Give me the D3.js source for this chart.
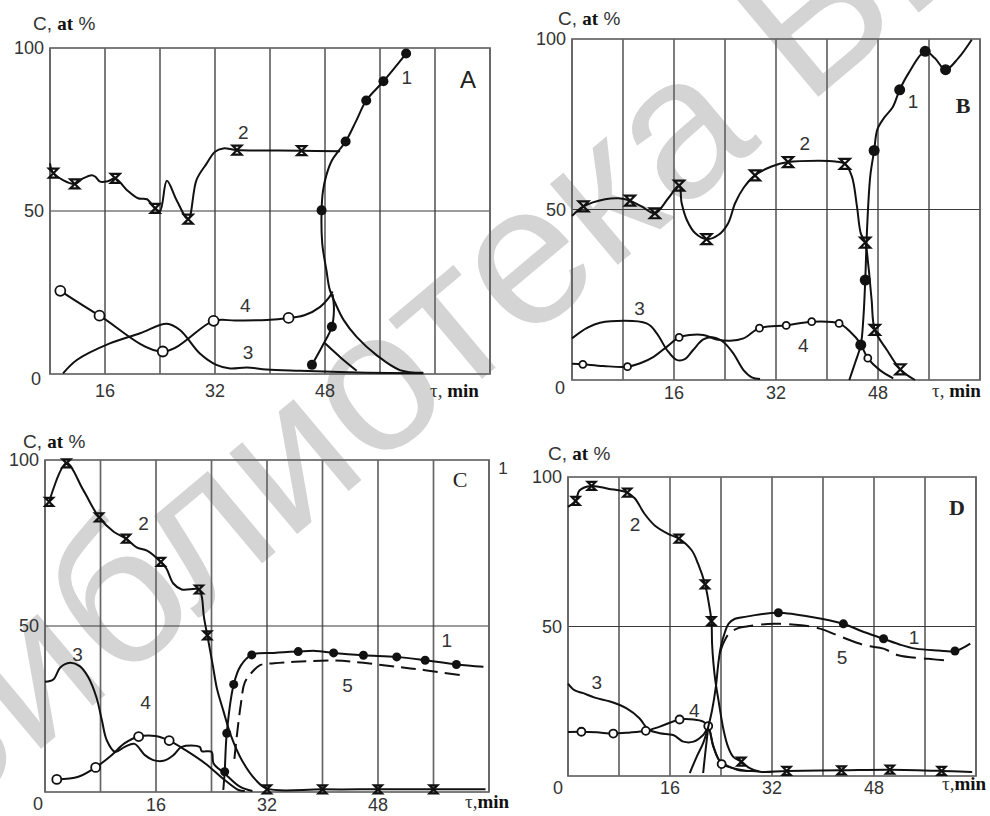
<!DOCTYPE html>
<html>
<head>
<meta charset="utf-8">
<script src="https://cdn.jsdelivr.net/npm/d3@7"></script>
<style>
  body { margin: 0; background: #fff; }
  svg { display: block; }
  .sans { font-family: "Liberation Sans", Arial, sans-serif; }
  .serif { font-family: "Liberation Serif", "Times New Roman", serif; }
</style>
</head>
<body>
<svg id="chart" width="990" height="816"></svg>
<script>
// --- data: [time (min), concentration (at %)] ---

// panel A
const a1Main = [[62.3,0.4],[58.9,1.2],[55.5,5.8],[52.6,11.4],[50.7,16.6],[49.5,21.7],[48.7,25.8],[48.2,31.9],[47.6,40],[47.5,50],[47.7,56],[48.2,61],[49,65.5],[50,68.5],[51,71.3],[52.5,77.5],[54,83.9],[56.5,89.8],[59.8,98.3]];
const a1Lower = [[46.1,2.8],[47.6,8.5],[49,14.5],[49.3,20],[49.1,24.5]];
const a1Branch = [[48,9.4],[50.3,5],[52.6,1]];
const a1Marks = [[59.8,98.3],[56.5,89.8],[54,83.9],[51,71.3],[47.5,50.2],[49,14.5],[46.1,2.8]];
const a2Line = [[8,64.6],[8.5,61.6],[11.6,58.3],[12.8,60],[14.1,61],[14.6,60.5],[15.3,59],[16.5,59.2],[17.5,60],[19.2,56.4],[20.8,53.9],[22.1,53.6],[23.3,50.8],[24,50],[25,59.3],[26.4,53.4],[28.1,47.5],[29.3,59.5],[30.8,64.6],[32,68.2],[33.2,69.2],[35.2,68.7],[44.6,68.5],[50.2,68.3]];
const a2Marks = [[8.5,61.6],[11.6,58.3],[17.5,60],[23.3,50.8],[28.1,47.5],[35.2,68.7],[44.6,68.5]];
const a3Line = [[9.9,0.2],[11.9,4.3],[16.7,9.4],[21.1,12.5],[25,15.4],[26.9,13.5],[29.8,6.3],[32.2,2.8],[34.2,1.7],[36.6,2],[39.5,1.4],[44.4,1],[54.1,0.4],[62.3,0.2]];
const a4Line = [[9.5,25.5],[15.2,17.9],[24.4,6.9],[31.8,16.3],[35,16.4],[39.5,16.6],[42.7,17.2],[45,18],[47.3,20.6],[48.6,23.5],[49.1,25.3]];
const a4Marks = [[9.5,25.5],[15.2,17.9],[24.4,6.9],[31.8,16.3],[42.7,17.2]];
const aLabels = [["1",59.9,91.2],["2",36.1,74.3],["3",36.8,6.8],["4",36.4,21.2]];

// panel B
const b1Line = [[43.5,0],[44.4,5],[45.3,10.3],[45.7,18],[46,29.3],[46.3,45],[46.8,60],[47.4,67.3],[47.9,73.5],[49,77],[50.3,80],[51.4,85.1],[52.8,90],[55.4,96.4],[56.9,94.4],[58.6,91],[60.6,94.4],[62.7,99.8]];
const b1Marks = [[45.3,10.3],[46,29.3],[47.4,67.3],[51.4,85.1],[55.4,96.4],[58.6,91]];
const b2Line = [[0,48.1],[1.8,50.9],[5.2,53],[7.3,53.3],[9.1,52.6],[10.9,50.9],[13,48.9],[15.1,53.3],[16.8,57],[17.2,51.9],[18,47],[19.3,43.1],[21.1,41.3],[23,42.6],[24.5,46],[25.6,51.9],[26.9,56.3],[28.7,60],[31.3,62.6],[33.9,63.9],[38.6,64.3],[41.3,64.1],[42.8,63.4],[43.9,59.7],[44.7,50.9],[45.3,43],[46,40.3],[46.5,33.3],[47,23.5],[47.5,14.7],[49.4,8.8],[51.5,3.1],[53.8,0]];
const b2Marks = [[1.8,50.9],[9.1,52.6],[13,48.9],[16.8,57],[21.1,41.3],[28.7,60],[33.9,63.9],[42.8,63.4],[46,40.3],[47.5,14.7],[51.5,3.1]];
const b3Line = [[0,12.2],[2.3,15.2],[4.4,16.8],[11.7,16.6],[13.3,13.7],[14.9,8.8],[16.4,5.9],[17.7,6.1],[19,8.8],[20.6,11.9],[22.2,12.5],[23.7,11.2],[25.3,7.8],[26.9,2.9],[28.2,0.8],[29.5,0.3]];
const b4Line = [[0,4.8],[1.7,4.6],[4.9,4.1],[8.7,3.9],[10.7,4.9],[12.8,6.8],[14.9,9.8],[16.8,12.5],[18.5,13.2],[20.6,13.2],[22.7,11.9],[24.8,11.5],[26.9,12.2],[29.4,15.2],[33.6,16],[37.6,17.1],[41.9,16.6],[43.6,14.2],[45.2,10.8],[46.4,6.4],[48.3,2.9],[50.4,0.5]];
const b4Marks = [[1.7,4.6],[8.7,3.9],[16.8,12.5],[29.4,15.2],[33.6,16],[37.6,17.1],[41.9,16.6],[46.4,6.4]];
const bLabels = [["1",53.5,81.7],["2",36.5,69.5],["3",10.6,21],["4",36.3,10.3]];

// panel C
const c1Line = [[25.7,0.6],[25.9,6.1],[26.2,17.7],[27.2,32.4],[28.2,38],[29.8,41.3],[33,41.9],[36.5,42.3],[39,42.5],[41.6,41.9],[45.9,41.2],[50.7,40.7],[54.8,39.7],[59.3,38.4],[63.2,37.7]];
const c1Marks = [[25.9,6.1],[26.2,17.7],[27.2,32.4],[29.8,41.3],[36.5,42.3],[41.6,41.9],[45.9,41.2],[50.7,40.7],[54.8,39.7],[59.3,38.4]];
const c2Line = [[0.6,87.4],[3.1,99],[5.5,91],[7.8,82.7],[9.9,78.4],[11.7,76.3],[13.2,73.7],[14.7,72.7],[16.7,69.3],[17.5,67.3],[18.5,62.8],[19.7,61],[22.2,61],[22.6,58.8],[22.9,52.8],[23.4,47.2],[24.2,38],[24.8,31],[25.7,24.5],[26.8,17],[28.4,9.5],[30.3,3.8],[32,1],[40,0.8],[48,0.8],[56,0.8],[63.5,0.8]];
const c2Marks = [[0.6,87.4],[3.1,99],[7.8,82.7],[11.7,76.3],[16.7,69.3],[22.2,61],[23.4,47.2],[32,0.8],[40,0.8],[48,0.8],[56,0.8]];
const c3Line = [[0,33.2],[1.2,33.9],[2.2,37.5],[3.6,38.9],[5,37.9],[6.2,34.7],[7.4,28.6],[8.2,21.6],[8.9,15.6],[10.1,12.1],[11.5,13.6],[12.9,14.5],[14.4,11.1],[15.6,9.6],[17.1,9.4],[18.5,11.1],[19.7,13.6],[22.3,13.6],[22.6,12.3],[24,12.1],[24.3,8.6],[25.9,5.6],[28.1,1.6],[29.9,0.3]];
const c4Line = [[1.7,3.8],[4.8,4.6],[7.3,7.4],[9.6,11.1],[11.5,14.7],[13.5,16.7],[15.9,16.9],[17.9,15.5],[20.2,12.7],[23.1,8.6],[25.9,3.6],[27.9,0.6],[28.8,0.3]];
const c4Marks = [[1.7,3.8],[7.3,7.4],[13.5,16.7],[17.9,15.5]];
const c5Line = [[27.3,10],[27.6,16],[28.2,26],[28.8,33],[29.8,36],[31,38.2],[33,38.8],[36,39.2],[41.6,39.6],[45.9,38.9],[50.7,37.7],[54.8,36.7],[59.8,35.2]];
const cLabels = [["1",57.9,45.7],["2",14.2,80.9],["3",4.7,41.7],["4",14.5,27.1],["5",43.6,32.2]];

// panel D
const d1Line = [[19.1,1],[20.2,6.5],[21.2,11],[22,16.5],[22.6,22],[23.2,30],[23.6,38],[24,43.5],[24.6,48],[25.2,51],[26.2,52.6],[28,53.3],[30,54],[33,54.6],[38.2,53.2],[43.2,50.9],[46,48.5],[49.5,45.9],[52,44],[54.5,42.6],[58.1,42],[60.7,41.8],[63.1,44.3]];
const d1Fan = [[21.2,1],[21.6,9],[22,16.3]];
const d1Marks = [[33,54.6],[43.2,50.9],[49.5,45.9],[60.7,41.8]];
const d2Line = [[0,90],[1.2,92],[1.8,95.5],[3.7,97],[6.3,96.1],[9.3,94.8],[10.5,92.8],[12,87.7],[13.6,83.8],[15.7,81],[17.4,79.4],[19.4,75.5],[20.4,71],[21.5,64.1],[22.1,57.6],[22.5,51.8],[22.6,44.3],[22.8,38],[23.1,32.1],[23.6,25.4],[24.4,15.4],[25.1,9.8],[25.9,6.5],[27.2,4.8],[28.5,2.6],[30.1,1.4],[34.3,1.7],[42.9,1.9],[50.5,2.1],[58.6,1.7],[63.4,1.3]];
const d2Marks = [[1.2,92],[3.7,97],[9.3,94.8],[17.4,79.4],[21.5,64.1],[22.5,51.8],[27.2,4.8],[34.3,1.7],[42.9,1.9],[50.5,2.1],[58.6,1.7]];
const d3Line = [[0,30.9],[1,28.7],[2.4,27.7],[4.2,26.2],[6.6,24.9],[9.2,22.6],[11.2,19.3],[12.6,15.6],[14.4,14.3],[16.5,13.7],[18.1,11.5],[19.7,11.5],[21.2,13.7],[22,16],[22.8,9.8],[23.7,5.4],[25.5,2.9],[28,1.8],[30,1.5]];
const d4Line = [[0,14.7],[2.1,14.8],[4.5,14.6],[7.1,14.2],[9.5,14.5],[12.2,15.1],[14.4,16.5],[17.5,18.9],[19.7,18.9],[21.2,18.2],[22,16.7],[22.8,10],[24.1,4],[25.5,2.9],[27,1.8],[29.1,1.7]];
const d4Marks = [[2.1,14.8],[7.1,14.2],[12.2,15.1],[17.5,18.9],[22,16.7],[24.1,4]];
const d5Line = [[23.8,41],[24.4,44.5],[25.2,47.5],[26.5,49.3],[28,50],[32.2,50.9],[36.6,50.4],[39.5,49.3],[42.9,46.5],[46.6,43.7],[49.5,42.6],[51.8,40.4],[56.5,39.2],[59.9,38.5]];
const dLabels = [["1",54.3,46.5],["2",10.5,84.4],["3",4.5,31.4],["4",19.8,22],["5",43,39.8]];

const xTicks = [16, 32, 48];
const yTicks = [50, 100];

// --- layout of the four panels ---
const panels = [
  { letter: "A", letterClass: "sans", letterWeight: "normal", letterPos: [468, 88],
    x0: 50, x1: 490, yTop: 48, yBot: 374, tMin: 8, tMax: 72, xTickDy: 23, zero: [36, 385],
    yTitle: [33, 30], xTitle: [430, 397, "τ, min"], dotR: 5, ringR: 5, hour: 4.5,
    curves: [
      { line: a1Main }, { line: a1Lower }, { line: a1Branch }, { marks: a1Marks, marker: "dot" },
      { line: a2Line, marks: a2Marks, marker: "hour" },
      { line: a3Line },
      { line: a4Line, marks: a4Marks, marker: "ring" }
    ], labels: aLabels },
  { letter: "B", letterClass: "serif", letterWeight: "bold", letterPos: [963, 113],
    x0: 572, x1: 980, yTop: 39, yBot: 380, tMin: 0, tMax: 64, xTickDy: 19, zero: [560, 394],
    yTitle: [558, 25], xTitle: [932, 397, "τ, min"], dotR: 5.5, ringR: 3.5, hour: 5,
    curves: [
      { line: b3Line },
      { line: b4Line, marks: b4Marks, marker: "ring" },
      { line: b2Line, marks: b2Marks, marker: "hour" },
      { line: b1Line, marks: b1Marks, marker: "dot" }
    ], labels: bLabels },
  { letter: "C", letterClass: "serif", letterWeight: "normal", letterPos: [460, 487],
    x0: 45, x1: 489, yTop: 460, yBot: 792, tMin: 0, tMax: 64, xTickDy: 19, zero: [38, 810],
    yTitle: [23, 448], xTitle: [465, 808, "τ,min"], dotR: 4.5, ringR: 4.5, hour: 4,
    curves: [
      { line: c3Line },
      { line: c4Line, marks: c4Marks, marker: "ring" },
      { line: c5Line, dash: "15,7" },
      { line: c2Line, marks: c2Marks, marker: "hour" },
      { line: c1Line, marks: c1Marks, marker: "dot" }
    ], labels: cLabels },
  { letter: "D", letterClass: "serif", letterWeight: "bold", letterPos: [957, 515],
    x0: 568, x1: 976, yTop: 477, yBot: 776, tMin: 0, tMax: 64, xTickDy: 18, zero: [558, 794],
    yTitle: [548, 460], xTitle: [942, 790, "τ,min"], dotR: 4.5, ringR: 4, hour: 4,
    curves: [
      { line: d3Line },
      { line: d4Line, marks: d4Marks, marker: "ring" },
      { line: d5Line, dash: "20,8" },
      { line: d1Fan },
      { line: d2Line, marks: d2Marks, marker: "hour" },
      { line: d1Line, marks: d1Marks, marker: "dot" }
    ], labels: dLabels }
];

const svg = d3.select("#chart");

// faint library watermark behind everything
svg.append("text")
  .attr("class", "sans")
  .attr("transform", "translate(-70,842) rotate(-40)")
  .attr("font-size", 200)
  .attr("fill", "#d4d4d4")
  .text("Библиотека БГУИР");

panels.forEach(p => {
  const x = d3.scaleLinear().domain([p.tMin, p.tMax]).range([p.x0, p.x1]);
  const y = d3.scaleLinear().domain([0, 100]).range([p.yBot, p.yTop]);
  const g = svg.append("g");

  // grid: vertical line every 8 min, horizontal line at 50 %
  g.selectAll(".vgrid")
    .data(d3.range(p.tMin, p.tMax + 1, 8))
    .enter().append("line")
    .attr("x1", d => x(d)).attr("x2", d => x(d))
    .attr("y1", p.yTop).attr("y2", p.yBot)
    .attr("stroke", "#666").attr("stroke-width", 1.7);
  g.append("line")
    .attr("x1", p.x0).attr("x2", p.x1)
    .attr("y1", y(50)).attr("y2", y(50))
    .attr("stroke", "#3a3a3a").attr("stroke-width", 1.2);
  g.append("rect")
    .attr("x", p.x0).attr("y", p.yTop)
    .attr("width", p.x1 - p.x0).attr("height", p.yBot - p.yTop)
    .attr("fill", "none").attr("stroke", "#666").attr("stroke-width", 1.7);

  // tick labels
  g.selectAll(".xt").data(xTicks).enter().append("text")
    .attr("class", "sans").attr("font-size", 18).attr("fill", "#333")
    .attr("text-anchor", "middle")
    .attr("x", d => x(d)).attr("y", p.yBot + p.xTickDy)
    .text(d => d);
  g.selectAll(".yt").data(yTicks).enter().append("text")
    .attr("class", "sans").attr("font-size", 18).attr("fill", "#333")
    .attr("text-anchor", "end")
    .attr("x", p.x0 - 6).attr("y", d => y(d) + 6)
    .text(d => d);
  g.append("text")
    .attr("class", "sans").attr("font-size", 18).attr("fill", "#333")
    .attr("text-anchor", "middle")
    .attr("x", p.zero[0]).attr("y", p.zero[1])
    .text("0");

  // axis titles
  const yt = g.append("text").attr("x", p.yTitle[0]).attr("y", p.yTitle[1]).attr("font-size", 19).attr("fill", "#333");
  yt.append("tspan").attr("class", "sans").text("C, ");
  yt.append("tspan").attr("class", "serif").attr("font-weight", "bold").attr("fill", "#111").text("at");
  yt.append("tspan").attr("class", "sans").text(" %");
  const parts = p.xTitle[2].split("min");
  const xt = g.append("text").attr("x", p.xTitle[0]).attr("y", p.xTitle[1]).attr("font-size", 19).attr("fill", "#333");
  xt.append("tspan").attr("class", "serif").text(parts[0]);
  xt.append("tspan").attr("class", "serif").attr("font-weight", "bold").attr("fill", "#111").text("min");

  // panel letter
  g.append("text")
    .attr("class", p.letterClass).attr("font-weight", p.letterWeight)
    .attr("font-size", p.letterClass === "sans" ? 24 : 22).attr("fill", "#222")
    .attr("text-anchor", "middle")
    .attr("x", p.letterPos[0]).attr("y", p.letterPos[1])
    .text(p.letter);

  // curves
  const line = d3.line()
    .x(d => x(d[0])).y(d => y(d[1]))
    .curve(d3.curveCatmullRom.alpha(0.5));

  p.curves.forEach(c => {
    if (c.line) {
      g.append("path")
        .attr("d", line(c.line))
        .attr("fill", "none").attr("stroke", "#111")
        .attr("stroke-width", 2)
        .attr("stroke-dasharray", c.dash || null);
    }
    if (c.marks) {
      const m = g.selectAll(null).data(c.marks).enter();
      if (c.marker === "dot") {
        m.append("circle")
          .attr("cx", d => x(d[0])).attr("cy", d => y(d[1]))
          .attr("r", p.dotR).attr("fill", "#111");
      } else if (c.marker === "ring") {
        m.append("circle")
          .attr("cx", d => x(d[0])).attr("cy", d => y(d[1]))
          .attr("r", p.ringR).attr("fill", "#fff")
          .attr("stroke", "#111").attr("stroke-width", 1.8);
      } else {
        const s = p.hour;
        m.append("path")
          .attr("d", d => {
            const cx = x(d[0]), cy = y(d[1]);
            return `M${cx - s},${cy - s}H${cx + s}L${cx - s},${cy + s}H${cx + s}Z`;
          })
          .attr("fill", "none").attr("stroke", "#111")
          .attr("stroke-width", 2.2).attr("stroke-linejoin", "miter");
      }
    }
  });

  // curve numbers
  g.selectAll(".lbl").data(p.labels).enter().append("text")
    .attr("class", "sans").attr("font-size", 19).attr("fill", "#333")
    .attr("text-anchor", "middle")
    .attr("x", d => x(d[1])).attr("y", d => y(d[2]) + 7)
    .text(d => d[0]);
});

// stray figure number between the lower panels
svg.append("text")
  .attr("class", "sans").attr("font-size", 17).attr("fill", "#333")
  .attr("text-anchor", "middle")
  .attr("x", 503).attr("y", 474)
  .text("1");
</script>
</body>
</html>
